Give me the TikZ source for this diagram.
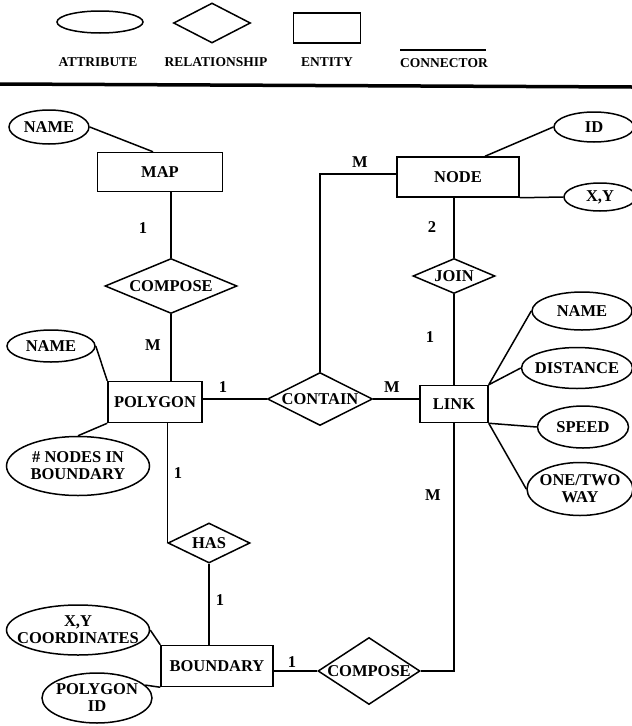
\documentclass[tikz,border=0pt]{standalone}
\usepackage{fontspec}
\setmainfont{Liberation Serif}
\usepackage{tikz}
\usetikzlibrary{shapes.geometric}
\tikzstyle{entity} = [rectangle, draw, inner sep=0pt, text centered]
\tikzstyle{attr} = [ellipse, draw, inner xsep=-12pt, inner ysep=0pt, align=center]
\tikzstyle{rel} = [diamond, draw, inner sep=0pt]
\tikzstyle{card} = [inner sep=0pt]
\tikzstyle{key} = [inner sep=0pt, font=\fontsize{13.5}{15}\selectfont\bfseries]
\tikzstyle{line} = [draw]

\begin{document}
\begin{tikzpicture}[x=1pt, y=-1pt, line width=1.5pt, font=\fontsize{16.5}{17}\selectfont\bfseries]
\useasboundingbox (0,0) rectangle (632,726);

% legend
\node [attr, inner sep=0pt, minimum width=86, minimum height=22] (kattr) at (100,22) {};
\node [rel, minimum width=77, minimum height=40] (krel) at (212,23) {};
\node [entity, minimum width=67, minimum height=30] (kent) at (327,28) {};
\coordinate (kc1) at (400,50);
\coordinate (kc2) at (486,50);
\path [line] (kc1) -- (kc2);
\node [key] (lattr) at (98,62) {ATTRIBUTE};
\node [key] (lrel) at (216,62) {RELATIONSHIP};
\node [key] (lent) at (327,62) {ENTITY};
\node [key] (lcon) at (444,63) {CONNECTOR};
\coordinate (s1) at (0,84);
\coordinate (s2) at (632,87);
\path [line, line width=3.5pt] (s1) -- (s2);

% entities
\node [entity, minimum width=125, minimum height=39] (map) at (160,172) {MAP};
\node [entity, minimum width=122, minimum height=40] (nd) at (458,177) {NODE};
\node [entity, minimum width=94, minimum height=41] (poly) at (155,402) {POLYGON};
\node [entity, minimum width=68, minimum height=37] (lnk) at (454,404) {LINK};
\node [entity, minimum width=112, minimum height=41] (bnd) at (217,666) {BOUNDARY};

% relationships
\node [rel, shape aspect=2.4, minimum width=132, minimum height=55] (comp1) at (171,286) {COMPOSE};
\node [rel, shape aspect=2, minimum width=105, minimum height=53] (cont) at (320,399) {CONTAIN};
\node [rel, shape aspect=2.3, minimum width=82, minimum height=35] (join) at (454,276) {JOIN};
\node [rel, shape aspect=2, minimum width=82, minimum height=40] (has) at (209,543) {HAS};
\node [rel, shape aspect=1.5, minimum width=102, minimum height=67] (comp2) at (369,671) {COMPOSE};

% attributes
\node [attr, minimum width=80, minimum height=34] (mname) at (49,127) {NAME};
\node [attr, minimum width=88, minimum height=32] (pname) at (51,346) {NAME};
\node [attr, minimum width=143, minimum height=59] (pnodes) at (78,466) {\# NODES IN\\BOUNDARY};
\node [attr, minimum width=143, minimum height=50] (bxy) at (78,630) {X,Y\\COORDINATES};
\node [attr, minimum width=110, minimum height=50] (bid) at (97,698) {POLYGON\\ID};
\node [attr, minimum width=80, minimum height=30] (nid) at (594,127) {ID};
\node [attr, minimum width=72, minimum height=28] (nxy) at (600,197) {X,Y};
\node [attr, minimum width=100, minimum height=38] (lname) at (582,311) {NAME};
\node [attr, minimum width=111, minimum height=41] (ldist) at (577,368) {DISTANCE};
\node [attr, minimum width=91, minimum height=42] (lspeed) at (583,427) {SPEED};
\node [attr, minimum width=106, minimum height=53] (lway) at (580,489) {ONE/TWO\\WAY};

% connectors
\path [line] (mname.east) -- ([xshift=-7pt]map.north);
\path [line] (comp1.north |- map.south) -- (comp1.north);
\path [line] (comp1.south) -- (comp1.south |- poly.north);
\path [line] (pname.east) -- (poly.north west);
\path [line] (poly.south west) -- (pnodes.north);
\path [line] (cont.west -| poly.east) -- (cont.west);
\path [line] (has.west |- poly.south) -- (has.west);
\path [line] (has.south) -- (has.south |- bnd.north);
\path [line] (bxy.east) -- (bnd.north west);
\path [line] (bid.15) -- (bnd.south west);
\path [line] (comp2.west -| bnd.east) -- (comp2.west);
\path [line] (comp2.east) -| (lnk.south);
\path [line] (cont.east) -- (cont.east -| lnk.west);
\path [line] (cont.north) |- ([yshift=3pt]nd.west);
\path [line] (join.north |- nd.south) -- (join.north);
\path [line] (join.south) -- (lnk.north);
\path [line] ([xshift=27pt]nd.north) -- (nid.west);
\path [line] (nd.south east) -- (nxy.west);
\path [line] (lnk.north east) -- (lname.west);
\path [line] (lnk.north east) -- (ldist.west);
\path [line] (lnk.south east) -- (lspeed.west);
\path [line] (lnk.south east) -- (lway.west);

% cardinalities
\node [card] (c1) at (143,228) {1};
\node [card] (c2) at (153,345) {M};
\node [card] (c3) at (223,387) {1};
\node [card] (c4) at (178,473) {1};
\node [card] (c5) at (220,600) {1};
\node [card] (c6) at (292,662) {1};
\node [card] (c7) at (392,387) {M};
\node [card] (c8) at (433,495) {M};
\node [card] (c9) at (360,162) {M};
\node [card] (c10) at (432,227) {2};
\node [card] (c11) at (430,337) {1};
\end{tikzpicture}
\end{document}
